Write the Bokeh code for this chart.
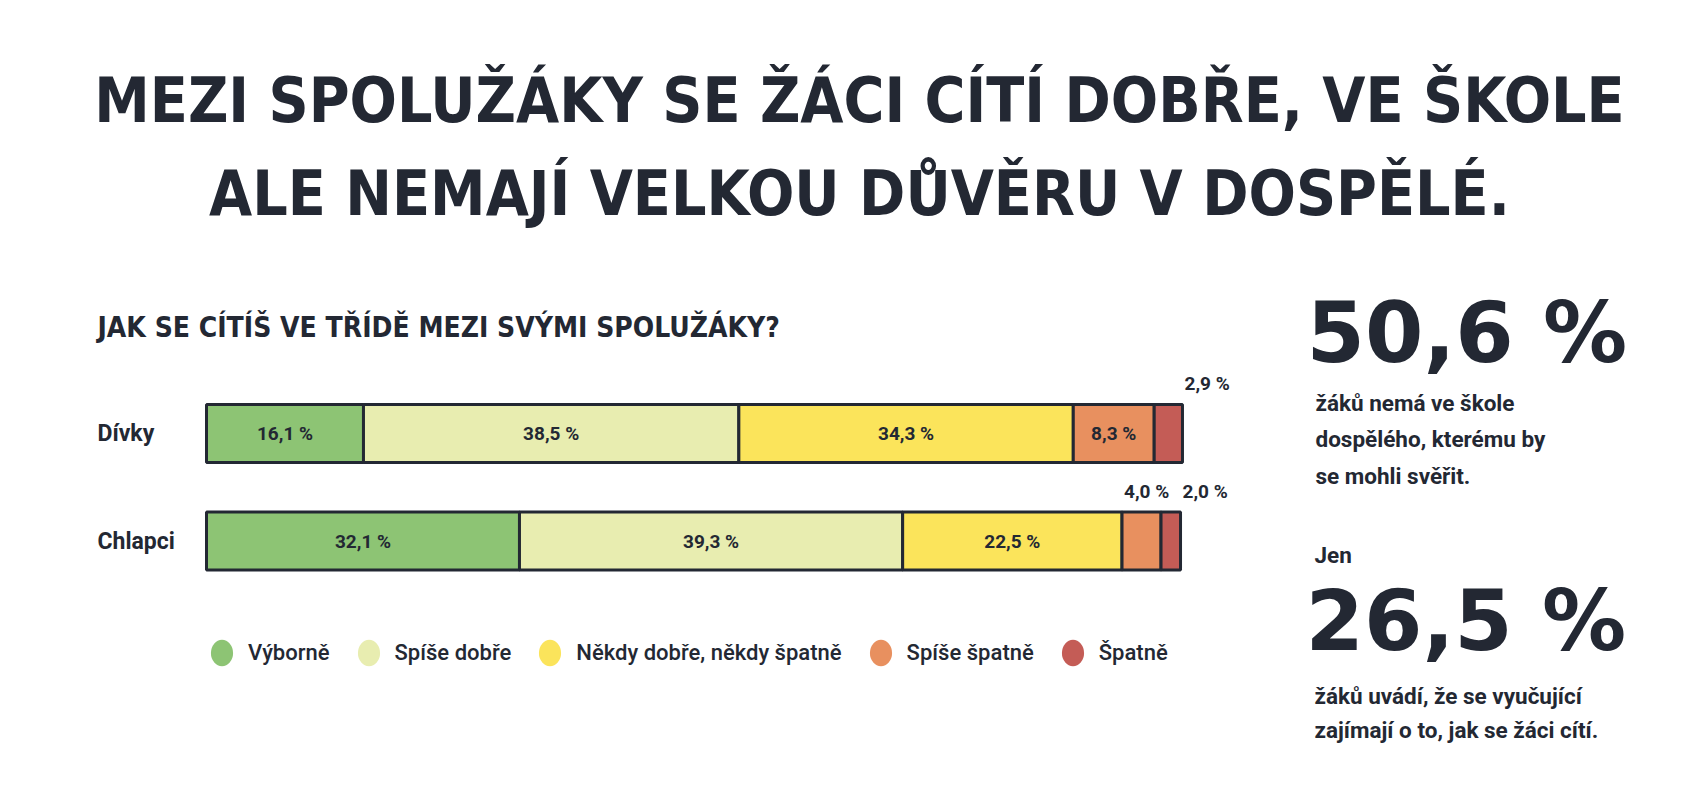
from bokeh.core.properties import value
from bokeh.embed import file_html
from bokeh.models import ColumnDataSource, Label, Legend, LegendItem, Range1d
from bokeh.plotting import figure
from bokeh.resources import INLINE

# data
groups = ["Dívky", "Chlapci"]
answers = ["Výborně", "Spíše dobře", "Někdy dobře, někdy špatně", "Spíše špatně", "Špatně"]
divky = [16.1, 38.5, 34.3, 8.3, 2.9]
chlapci = [32.1, 39.3, 22.5, 4.0, 2.0]
colors = ["#8dc474", "#e8edb0", "#fbe45b", "#e8905f", "#c45c56"]

title_lines = ["MEZI SPOLUŽÁKY SE ŽÁCI CÍTÍ DOBŘE, VE ŠKOLE", "ALE NEMAJÍ VELKOU DŮVĚRU V DOSPĚLÉ."]
question = "JAK SE CÍTÍŠ VE TŘÍDĚ MEZI SVÝMI SPOLUŽÁKY?"
stat_1 = "50,6 %"
stat_1_text = ["žáků nemá ve škole", "dospělého, kterému by", "se mohli svěřit."]
stat_2_intro = "Jen"
stat_2 = "26,5 %"
stat_2_text = ["žáků uvádí, že se vyučující", "zajímají o to, jak se žáci cítí."]

# layout (canvas pixels, y from top)
W, H = 1692, 778
BAR_X0 = 206          # pixel of 0 %
PX_PER_PCT = 9.75
ROW0_Y = 433          # pixel centre of first row
ROW_STEP = 107.5
BAR_H = 58

DARK = "#232833"
HAND = "Liberation Sans Narrow, DejaVu Sans Condensed, Roboto Condensed, sans-serif"
BIG = "DejaVu Sans"
BODY = "Roboto"

x_range = Range1d(-BAR_X0 / PX_PER_PCT, (W - BAR_X0) / PX_PER_PCT)
y_range = Range1d((H - ROW0_Y) / ROW_STEP, -ROW0_Y / ROW_STEP)

p = figure(
    width=W,
    height=H,
    x_range=x_range,
    y_range=y_range,
    x_axis_type=None,
    y_axis_type=None,
    toolbar_location=None,
    output_backend="svg",
    min_border=0,
    outline_line_color=None,
)
p.xgrid.visible = False
p.ygrid.visible = False

rows = list(range(len(groups)))
data = {"row": rows, "group": groups}
for i, a in enumerate(answers):
    data[a] = [divky[i], chlapci[i]]
source = ColumnDataSource(data)

p.hbar_stack(
    answers,
    y="row",
    height=BAR_H / ROW_STEP,
    color=colors,
    line_color=DARK,
    line_width=3,
    source=source,
)

# value labels: inside wide segments, above the narrow ones
in_x, in_y, in_t = [], [], []
out_x, out_y, out_t = [], [], []
for r, vals in zip(rows, [divky, chlapci]):
    start = 0.0
    for i, v in enumerate(vals):
        txt = f"{v:.1f} %".replace(".", ",")
        if v >= 5:
            in_x.append(start + v / 2)
            in_y.append(r)
            in_t.append(txt)
        else:
            out_x.append(start if i < len(vals) - 1 else sum(vals))
            out_y.append(r - BAR_H / 2 / ROW_STEP)
            out_t.append(txt)
        start += v

p.text(
    x=in_x, y=in_y, text=in_t,
    text_align="center", text_baseline="middle",
    text_font=value(BODY), text_font_style="bold", text_font_size="19px",
    text_color=DARK,
)
p.text(
    x=out_x, y=out_y, text=out_t,
    x_offset=2, y_offset=-21,
    text_align="left", text_baseline="middle",
    text_font=value(BODY), text_font_style="bold", text_font_size="19px",
    text_color=DARK,
)

# group labels
p.text(
    x=[0] * len(rows), y=rows, text=groups,
    x_offset=-109,
    text_align="left", text_baseline="middle",
    text_font=value(BODY), text_font_style="bold", text_font_size="23px",
    text_color=DARK,
)


def label(text, cx, cy, size, font, align="left", style="bold"):
    # cy is the vertical centre of the line (pixels from top)
    p.add_layout(Label(
        x=cx, y=H - cy, x_units="screen", y_units="screen",
        text=text, text_align=align, text_baseline="middle",
        text_font=font, text_font_size=size, text_font_style=style,
        text_color=DARK,
    ))


label(title_lines[0], 859, 100, "62px", HAND, align="center")
label(title_lines[1], 859, 193, "62px", HAND, align="center")
label(question, 97, 327, "28px", HAND)

label(stat_1, 1306, 332, "84px", BIG)
for k, line in enumerate(stat_1_text):
    label(line, 1315, 402 + k * 36.5, "22.5px", BODY)
label(stat_2_intro, 1314, 554, "22.5px", BODY)
label(stat_2, 1305, 620, "84px", BIG)
for k, line in enumerate(stat_2_text):
    label(line, 1314, 695 + k * 34, "22.5px", BODY)

# legend with blob-like ellipses
items = []
for a, c in zip(answers, colors):
    r = p.ellipse(x=[float("nan")], y=[float("nan")], width=26, height=31,
                  width_units="screen", height_units="screen",
                  fill_color=c, line_color=None)
    items.append(LegendItem(label=a, renderers=[r]))

legend = Legend(
    items=items,
    orientation="horizontal",
    location=(205, H - 672),
    glyph_width=33,
    glyph_height=39,
    label_standoff=10,
    spacing=22,
    padding=0,
    margin=0,
    border_line_color=None,
    background_fill_alpha=0,
    label_text_font="Roboto Medium, Roboto",
    label_text_font_size="22px",
    label_text_color=DARK,
    label_height=39,
)
p.add_layout(legend)

open("out.html", "w").write(file_html(p, INLINE))
